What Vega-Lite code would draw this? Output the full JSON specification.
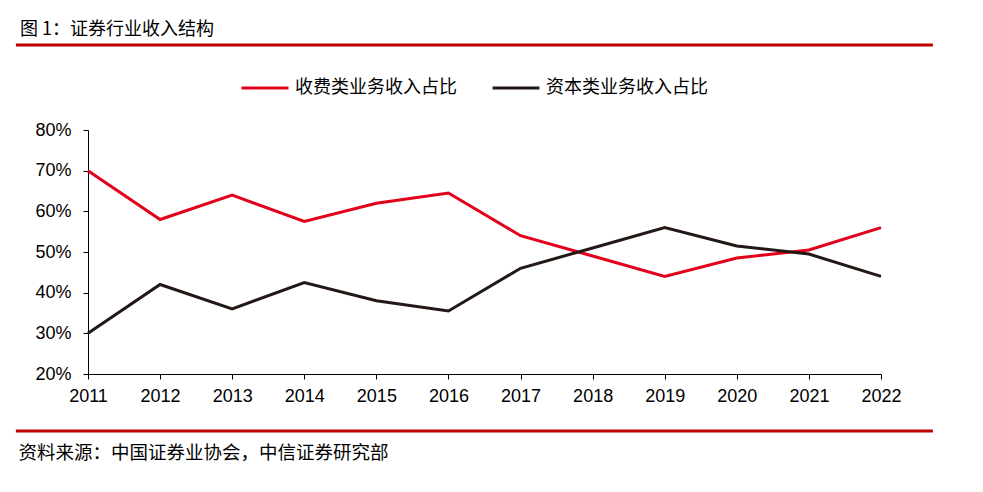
{
  "$schema": "https://vega.github.io/schema/vega-lite/v6.json",
  "width": 793,
  "height": 244,
  "autosize": {"type": "none"},
  "padding": {"left": 88, "top": 130, "right": 102, "bottom": 118},
  "background": "white",
  "title": {
    "text": "图 1：证券行业收入结构",
    "anchor": "start",
    "frame": "group",
    "dx": -68,
    "offset": 5,
    "font": "Noto Sans CJK SC",
    "fontSize": 18,
    "fontWeight": "normal",
    "color": "#000000"
  },
  "config": {
    "view": {"stroke": null},
    "axis": {
      "labelFont": "Liberation Sans",
      "labelFontSize": 18,
      "labelColor": "#000000",
      "domainColor": "#000000",
      "tickColor": "#000000",
      "grid": false
    }
  },
  "datasets": {
    "lines": [
      {"year": 2011, "series": "收费类业务收入占比", "value": 0.70},
      {"year": 2012, "series": "收费类业务收入占比", "value": 0.58},
      {"year": 2013, "series": "收费类业务收入占比", "value": 0.64},
      {"year": 2014, "series": "收费类业务收入占比", "value": 0.575},
      {"year": 2015, "series": "收费类业务收入占比", "value": 0.62},
      {"year": 2016, "series": "收费类业务收入占比", "value": 0.645},
      {"year": 2017, "series": "收费类业务收入占比", "value": 0.54},
      {"year": 2018, "series": "收费类业务收入占比", "value": 0.49},
      {"year": 2019, "series": "收费类业务收入占比", "value": 0.44},
      {"year": 2020, "series": "收费类业务收入占比", "value": 0.485},
      {"year": 2021, "series": "收费类业务收入占比", "value": 0.505},
      {"year": 2022, "series": "收费类业务收入占比", "value": 0.56},
      {"year": 2011, "series": "资本类业务收入占比", "value": 0.30},
      {"year": 2012, "series": "资本类业务收入占比", "value": 0.42},
      {"year": 2013, "series": "资本类业务收入占比", "value": 0.36},
      {"year": 2014, "series": "资本类业务收入占比", "value": 0.425},
      {"year": 2015, "series": "资本类业务收入占比", "value": 0.38},
      {"year": 2016, "series": "资本类业务收入占比", "value": 0.355},
      {"year": 2017, "series": "资本类业务收入占比", "value": 0.46},
      {"year": 2018, "series": "资本类业务收入占比", "value": 0.51},
      {"year": 2019, "series": "资本类业务收入占比", "value": 0.56},
      {"year": 2020, "series": "资本类业务收入占比", "value": 0.515},
      {"year": 2021, "series": "资本类业务收入占比", "value": 0.495},
      {"year": 2022, "series": "资本类业务收入占比", "value": 0.44}
    ],
    "seps": [
      {"ypos": 1.009, "xs": 2010.0, "xe": 2022.72},
      {"ypos": 0.060, "xs": 2010.0, "xe": 2022.72}
    ]
  },
  "layer": [
    {
      "data": {"name": "lines"},
      "mark": {"type": "line", "strokeWidth": 3, "clip": false},
      "encoding": {
        "x": {
          "field": "year",
          "type": "quantitative",
          "scale": {"domain": [2011, 2022], "nice": false, "zero": false},
          "axis": {
            "values": [2011, 2012, 2013, 2014, 2015, 2016, 2017, 2018, 2019, 2020, 2021, 2022],
            "format": "d",
            "labelFlush": false,
            "labelPadding": 8,
            "tickSize": 5,
            "title": "资料来源：中国证券业协会，中信证券研究部",
            "titleFont": "Noto Sans CJK SC",
            "titleFontSize": 18.5,
            "titleFontWeight": "normal",
            "titleColor": "#000000",
            "titleAnchor": "start",
            "titleAlign": "left",
            "titleX": -70,
            "titleY": 78,
            "titleBaseline": "middle"
          }
        },
        "y": {
          "field": "value",
          "type": "quantitative",
          "scale": {"domain": [0.2, 0.8], "nice": false, "zero": false},
          "axis": {
            "values": [0.2, 0.3, 0.4, 0.5, 0.6, 0.7, 0.8],
            "format": ".0%",
            "title": null,
            "tickSize": 5,
            "labelPadding": 12
          }
        },
        "color": {
          "field": "series",
          "type": "nominal",
          "scale": {"domain": ["收费类业务收入占比", "资本类业务收入占比"], "range": ["#E2001A", "#231815"]},
          "legend": {
            "title": null,
            "orient": "none",
            "direction": "horizontal",
            "legendX": 152,
            "legendY": -67,
            "symbolType": "stroke",
            "symbolSize": 2209,
            "symbolStrokeWidth": 3,
            "labelFont": "Noto Sans CJK SC",
            "labelFontSize": 18,
            "labelLimit": 300,
            "labelColor": "#000000",
            "labelOffset": 5,
            "columnPadding": 29
          }
        }
      }
    },
    {
      "data": {"name": "seps"},
      "mark": {"type": "rule", "color": "#C00000", "strokeWidth": 3, "clip": false},
      "encoding": {
        "x": {"field": "xs", "type": "quantitative"},
        "x2": {"field": "xe"},
        "y": {"field": "ypos", "type": "quantitative"}
      }
    }
  ]
}
